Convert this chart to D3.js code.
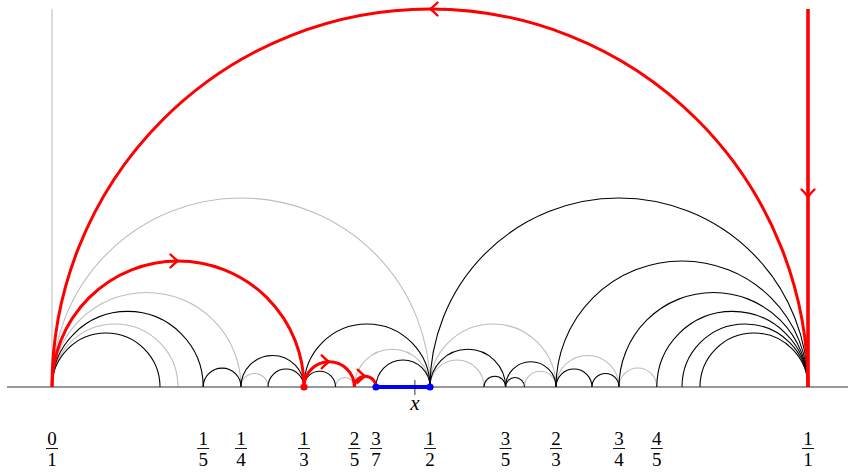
<!DOCTYPE html>
<html>
<head>
<meta charset="utf-8">
<script src="https://cdn.jsdelivr.net/npm/d3@7"></script>
<style>
  html, body { margin: 0; padding: 0; background: #fff; }
  svg { display: block; }
</style>
</head>
<body>
<svg id="chart" width="848" height="473"></svg>
<script>
// ---- data ----
const tickLabels = [[0,1],[1,5],[1,4],[1,3],[2,5],[3,7],[1,2],[3,5],[2,3],[3,4],[4,5],[1,1]];
const blackArcs = [
  [[0,1],[1,7]], [[0,1],[1,5]],
  [[1,5],[1,4]], [[1,4],[1,3]], [[2,7],[1,3]],
  [[1,3],[1,2]], [[1,3],[3,8]], [[3,7],[1,2]],
  [[1,2],[1,1]], [[1,2],[3,5]], [[4,7],[3,5]], [[3,5],[5,8]], [[3,5],[2,3]],
  [[2,3],[5,7]], [[5,7],[3,4]],
  [[2,3],[1,1]], [[3,4],[1,1]], [[4,5],[1,1]], [[5,6],[1,1]], [[6,7],[1,1]]
];
const grayArcs = [
  [[0,1],[1,2]], [[0,1],[1,4]], [[0,1],[1,6]],
  [[1,4],[2,7]], [[3,8],[2,5]], [[2,5],[1,2]],
  [[1,2],[2,3]], [[1,2],[4,7]], [[5,8],[2,3]],
  [[2,3],[3,4]], [[3,4],[4,5]]
];
// red path: from infinity down to 1, then along Farey arcs
const redPath = [[1,1],[0,1],[1,3],[2,5],[3,7]];
const redDots = [[1,3]];
const blueInterval = [[3,7],[1,2]];
const xValue = 0.48;

// ---- layout ----
const svg = d3.select("#chart");
const x = d3.scaleLinear().domain([0, 1]).range([52, 808]);
const y = d3.scaleLinear().domain([0, 0.5]).range([387, 9]);
const y0 = y(0);
const val = f => f[0] / f[1];

function arcPath(a, b) {
  const xa = x(val(a)), xb = x(val(b));
  const cx = (xa + xb) / 2, r = Math.abs(xb - xa) / 2;
  const p = d3.path();
  if (xa < xb) {
    p.moveTo(xa, y0);
    p.arc(cx, y0, r, Math.PI, 2 * Math.PI, false);
  } else {
    p.moveTo(xa, y0);
    p.arc(cx, y0, r, 0, -Math.PI, true);
  }
  return p.toString();
}

// vertical geodesic at 0 (gray)
svg.append("line")
  .attr("x1", x(0)).attr("x2", x(0))
  .attr("y1", y(0.5)).attr("y2", y0)
  .attr("stroke", "#c4c4c4").attr("stroke-width", 1.2);

// gray arcs
svg.append("g").selectAll("path").data(grayArcs).join("path")
  .attr("d", d => arcPath(d[0], d[1]))
  .attr("fill", "none").attr("stroke", "#bdbdbd").attr("stroke-width", 1.1);

// black arcs
svg.append("g").selectAll("path").data(blackArcs).join("path")
  .attr("d", d => arcPath(d[0], d[1]))
  .attr("fill", "none").attr("stroke", "#000").attr("stroke-width", 1.1);

// baseline
svg.append("line")
  .attr("x1", 7).attr("x2", 848)
  .attr("y1", y0).attr("y2", y0)
  .attr("stroke", "#333").attr("stroke-width", 1.2);

// red path
const red = "#ff0000";
const chevron = "M-7.5,-6.5 Q-2.5,-1.5 0,0 Q-2.5,1.5 -7.5,6.5";
const rg = svg.append("g");
const vx = x(val(redPath[0]));
rg.append("line")
  .attr("x1", vx).attr("x2", vx).attr("y1", y(0.5)).attr("y2", y0)
  .attr("stroke", red).attr("stroke-width", 3.6);
rg.append("path").attr("d", chevron)
  .attr("transform", `translate(${vx},${(y(0.5) + y0) / 2 - 1}) rotate(90)`)
  .attr("fill", "none").attr("stroke", red).attr("stroke-width", 2.4).attr("stroke-linecap", "round");

const segs = d3.pairs(redPath);
rg.selectAll("path.seg").data(segs).join("path").attr("class", "seg")
  .attr("d", d => arcPath(d[0], d[1]))
  .attr("fill", "none").attr("stroke", red).attr("stroke-width", 3);
rg.selectAll("path.arr").data(segs).join("path").attr("class", "arr")
  .attr("d", chevron)
  .attr("transform", d => {
    const xa = x(val(d[0])), xb = x(val(d[1]));
    const cx = (xa + xb) / 2, r = Math.abs(xb - xa) / 2;
    return `translate(${cx},${y0 - r}) rotate(${xa < xb ? 0 : 180})`;
  })
  .attr("fill", "none").attr("stroke", red).attr("stroke-width", 2.4).attr("stroke-linecap", "round");

rg.selectAll("circle").data(redDots).join("circle")
  .attr("cx", d => x(val(d))).attr("cy", y0).attr("r", 3.6).attr("fill", red);

// blue interval
const blue = "#0000ff";
svg.append("line")
  .attr("x1", x(val(blueInterval[0]))).attr("x2", x(val(blueInterval[1])))
  .attr("y1", y0).attr("y2", y0)
  .attr("stroke", blue).attr("stroke-width", 4);
svg.append("g").selectAll("circle").data(blueInterval).join("circle")
  .attr("cx", d => x(val(d))).attr("cy", y0).attr("r", 3.6).attr("fill", blue);

// x marker
svg.append("line")
  .attr("x1", x(xValue)).attr("x2", x(xValue))
  .attr("y1", 380).attr("y2", 395)
  .attr("stroke", "#000").attr("stroke-width", 0.8);
svg.append("text")
  .attr("x", x(xValue)).attr("y", 410)
  .attr("text-anchor", "middle")
  .attr("font-family", "'Liberation Serif', 'DejaVu Serif', serif")
  .attr("font-style", "italic").attr("font-size", 21)
  .text("x");

// fraction labels
const lg = svg.append("g")
  .attr("font-family", "'Liberation Serif', 'DejaVu Serif', serif")
  .attr("font-size", 19).attr("text-anchor", "middle");
const lab = lg.selectAll("g").data(tickLabels).join("g")
  .attr("transform", d => `translate(${x(val(d))},0)`);
lab.append("text").attr("y", 444.5).text(d => d[0]);
lab.append("line").attr("x1", -6).attr("x2", 6).attr("y1", 448.5).attr("y2", 448.5)
  .attr("stroke", "#000").attr("stroke-width", 0.9);
lab.append("text").attr("y", 465.5).text(d => d[1]);
</script>
</body>
</html>
